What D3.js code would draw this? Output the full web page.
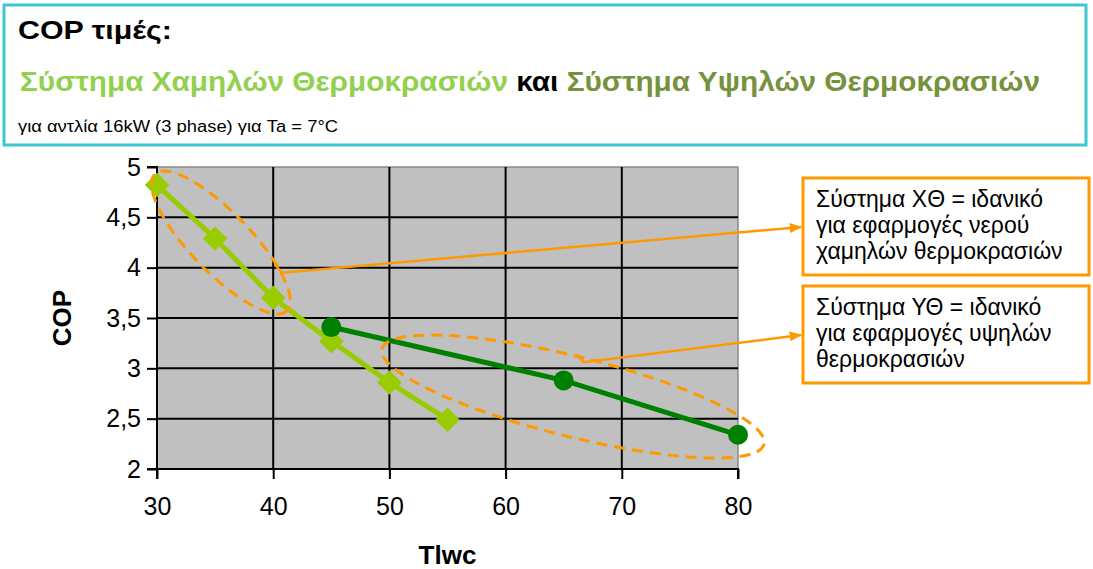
<!DOCTYPE html>
<html>
<head>
<meta charset="utf-8">
<title>COP</title>
<style>
  body { margin: 0; background: #fff; }
  svg { display: block; font-family: "Liberation Sans", Arial, sans-serif; }
</style>
</head>
<body>
<script src="https://d3js.org/d3.v7.min.js"></script>
<script>
// series data (Tlwc, COP)
const lowTempX = [30, 35, 40, 45, 50, 55];
const lowTempY = [4.82, 4.29, 3.70, 3.27, 2.86, 2.49];
const highTempX = [45, 65, 80];
const highTempY = [3.41, 2.88, 2.34];

const xTicks = [30, 40, 50, 60, 70, 80];
const yTicks = [2, 2.5, 3, 3.5, 4, 4.5, 5];

const noteLow = ["Σύστημα ΧΘ = ιδανικό", "για εφαρμογές νερού", "χαμηλών θερμοκρασιών"];
const noteHigh = ["Σύστημα ΥΘ = ιδανικό", "για εφαρμογές υψηλών", "θερμοκρασιών"];

const width = 1093, height = 569;
const plot = { left: 157, right: 738, top: 167, bottom: 469 };

const svg = d3.select("body").append("svg")
  .attr("width", width).attr("height", height);

// header box
svg.append("rect")
  .attr("x", 4).attr("y", 5).attr("width", 1082).attr("height", 140)
  .attr("fill", "#fff").attr("stroke", "#3cc8cc").attr("stroke-width", 3);

svg.append("text").attr("x", 18).attr("y", 39)
  .attr("font-size", 25).attr("font-weight", "bold").attr("fill", "#000")
  .attr("textLength", 154).attr("lengthAdjust", "spacingAndGlyphs")
  .text("COP τιμές:");

const sub = svg.append("text").attr("x", 20).attr("y", 91)
  .attr("font-size", 28).attr("font-weight", "bold")
  .attr("textLength", 1020).attr("lengthAdjust", "spacingAndGlyphs");
sub.append("tspan").attr("fill", "#92d050").text("Σύστημα Χαμηλών Θερμοκρασιών ");
sub.append("tspan").attr("fill", "#000").text("και ");
sub.append("tspan").attr("fill", "#76923c").text("Σύστημα Υψηλών Θερμοκρασιών");

svg.append("text").attr("x", 18).attr("y", 132)
  .attr("font-size", 16).attr("fill", "#000")
  .attr("textLength", 320).attr("lengthAdjust", "spacingAndGlyphs")
  .text("για αντλία 16kW  (3 phase) για Ta = 7°C");

// scales
const x = d3.scaleLinear().domain([30, 80]).range([plot.left, plot.right]);
const y = d3.scaleLinear().domain([2, 5]).range([plot.bottom, plot.top]);

// plot background
svg.append("rect")
  .attr("x", x(30)).attr("y", y(5))
  .attr("width", x(80) - x(30)).attr("height", y(2) - y(5))
  .attr("fill", "#c0c0c0").attr("stroke", "#8a8a8a").attr("stroke-width", 1.5);

// grid
svg.append("g").selectAll("line")
  .data(yTicks.filter(d => d > 2 && d < 5)).join("line")
  .attr("x1", x(30)).attr("x2", x(80))
  .attr("y1", d => y(d)).attr("y2", d => y(d))
  .attr("stroke", "#000").attr("stroke-width", 2);
svg.append("g").selectAll("line")
  .data(xTicks.filter(d => d > 30 && d < 80)).join("line")
  .attr("x1", d => x(d)).attr("x2", d => x(d))
  .attr("y1", y(5)).attr("y2", y(2))
  .attr("stroke", "#000").attr("stroke-width", 2);

// axes
const xAxis = svg.append("g").attr("transform", `translate(0,${plot.bottom})`)
  .call(d3.axisBottom(x).tickValues(xTicks).tickSize(10).tickPadding(18));
const yAxis = svg.append("g").attr("transform", `translate(${plot.left},0)`)
  .call(d3.axisLeft(y).tickValues(yTicks).tickSize(10).tickPadding(6)
    .tickFormat(d => String(d).replace(".", ",")));
[xAxis, yAxis].forEach(a => {
  a.select(".domain").attr("stroke", "#000").attr("stroke-width", 2);
  a.selectAll(".tick line").attr("stroke", "#000").attr("stroke-width", 2);
  a.selectAll(".tick text").attr("font-size", 25).attr("fill", "#000")
    .attr("font-family", "'Liberation Sans', Arial, sans-serif");
});
xAxis.select(".domain").attr("d", `M${x(30)},10V0H${x(80)}V10`);
yAxis.select(".domain").attr("d", `M-10,${y(5)}H0V${y(2)}H-10`);

// axis titles
svg.append("text").attr("x", (plot.left + plot.right) / 2).attr("y", 564)
  .attr("text-anchor", "middle").attr("font-size", 26).attr("font-weight", "bold")
  .text("Tlwc");
svg.append("text")
  .attr("transform", `translate(71,${(plot.top + plot.bottom) / 2}) rotate(-90)`)
  .attr("text-anchor", "middle").attr("font-size", 26).attr("font-weight", "bold")
  .text("COP");

// series
const lowData = lowTempX.map((d, i) => [d, lowTempY[i]]);
const highData = highTempX.map((d, i) => [d, highTempY[i]]);
const line = d3.line().x(d => x(d[0])).y(d => y(d[1]));

svg.append("path").datum(lowData).attr("d", line)
  .attr("fill", "none").attr("stroke", "#99cc00").attr("stroke-width", 5);
svg.append("g").selectAll("path").data(lowData).join("path")
  .attr("d", d3.symbol(d3.symbolSquare, 300))
  .attr("transform", d => `translate(${x(d[0])},${y(d[1])}) rotate(45)`)
  .attr("fill", "#99cc00");

svg.append("path").datum(highData).attr("d", line)
  .attr("fill", "none").attr("stroke", "#008000").attr("stroke-width", 5);
svg.append("g").selectAll("circle").data(highData).join("circle")
  .attr("cx", d => x(d[0])).attr("cy", d => y(d[1])).attr("r", 10)
  .attr("fill", "#008000");

// callout ellipses (centres in data units, sizes in px)
const ellipses = [
  { cx: 35.5, cy: 4.25, rx: 95, ry: 30, angle: 46 },
  { cx: 65.8, cy: 2.72, rx: 197, ry: 40, angle: 14 }
];
svg.append("g").selectAll("ellipse").data(ellipses).join("ellipse")
  .attr("rx", d => d.rx).attr("ry", d => d.ry)
  .attr("transform", d => `translate(${x(d.cx)},${y(d.cy)}) rotate(${d.angle})`)
  .attr("fill", "none").attr("stroke", "#ff9900").attr("stroke-width", 3)
  .attr("stroke-dasharray", "11,7");

// arrows from ellipses to note boxes (start in data units, end at the box edge)
const defs = svg.append("defs");
defs.append("marker").attr("id", "arr").attr("viewBox", "0 0 10 10")
  .attr("refX", 9).attr("refY", 5).attr("markerWidth", 5).attr("markerHeight", 5)
  .attr("orient", "auto")
  .append("path").attr("d", "M0,1L10,5L0,9Z").attr("fill", "#ff9900");

const arrowStarts = [[40.76, 3.95], [66.7, 3.06]];
const arrowEnds = [[801, 227], [801, 335]];
svg.append("g").selectAll("polyline").data(arrowStarts).join("polyline")
  .attr("points", (d, i) => {
    const sx = x(d[0]), sy = y(d[1]);
    return `${sx - 7},${sy - 8} ${sx},${sy} ${arrowEnds[i].join(",")}`;
  })
  .attr("fill", "none").attr("stroke", "#ff9900").attr("stroke-width", 2.5)
  .attr("marker-end", "url(#arr)");

// note boxes
const notes = [
  { lines: noteLow, top: 178, h: 97 },
  { lines: noteHigh, top: 286, h: 97 }
];
notes.forEach(n => {
  svg.append("rect").attr("x", 803).attr("y", n.top).attr("width", 286).attr("height", n.h)
    .attr("fill", "#fff").attr("stroke", "#ff9900").attr("stroke-width", 3);
  svg.append("g").selectAll("text").data(n.lines).join("text")
    .attr("x", 816).attr("y", (d, i) => n.top + 29 + i * 26)
    .attr("font-size", 23).attr("fill", "#000")
    .text(d => d);
});
</script>
</body>
</html>
